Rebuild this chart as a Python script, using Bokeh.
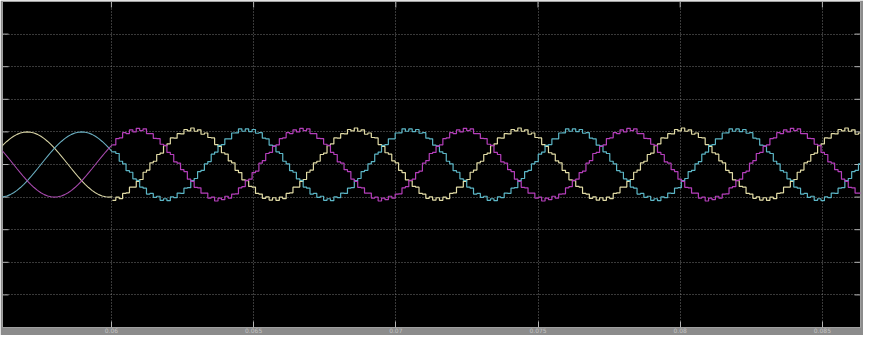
import numpy as np
from bokeh.plotting import figure
from bokeh.models import Range1d, FixedTicker
from bokeh.embed import file_html
from bokeh.resources import INLINE

# ---- axis ticks / labels ----
x_ticks = [0.06, 0.065, 0.07, 0.075, 0.08, 0.085]
x_tick_labels = ["0.06", "0.065", "0.07", "0.075", "0.08", "0.085"]
y_ticks = [-4, -3, -2, -1, 0, 1, 2, 3, 4]

# ---- time window and waveform parameters ----
t_start = 0.05617
t_end = 0.08634
y_min, y_max = -5, 5
t_switch = 0.06          # smooth -> stepped (inverter) operation
period = 0.00575         # one electrical period
yellow_peak_t = 0.05704  # first yellow maximum
amp_smooth = 1.0
amp_stepped = 1.07

# one period of the phase shape, 48 samples, starting at its maximum
wave_table = [1.0, 0.991, 0.966, 0.924, 0.866, 0.793, 0.707, 0.609, 0.5, 0.383, 0.259, 0.131,
              0.0, -0.131, -0.259, -0.383, -0.5, -0.609, -0.707, -0.793, -0.866, -0.924, -0.966, -0.991,
              -1.0, -0.991, -0.966, -0.924, -0.866, -0.793, -0.707, -0.609, -0.5, -0.383, -0.259, -0.131,
              0.0, 0.131, 0.259, 0.383, 0.5, 0.609, 0.707, 0.793, 0.866, 0.924, 0.966, 0.991]
# small ripple seen on the stepped part
ripple = [0.05, -0.04, 0.03, -0.06, 0.04, -0.02, 0.06, -0.04, 0.02, -0.05, 0.04, -0.03]

phase_names = ["yellow", "cyan", "magenta"]
phase_lag_samples = [0, 16, 32]
phase_colors_stepped = ["#e2dca6", "#5cb6c6", "#b53fbb"]
phase_colors_smooth = ["#d6d2a4", "#6aaec0", "#a84aae"]

n = len(wave_table)
dt = period / n
k_first = int(np.floor((t_start - yellow_peak_t) / dt)) - 1
k_switch = int(np.ceil((t_switch - yellow_peak_t) / dt))
k_last = int(np.ceil((t_end - yellow_peak_t) / dt)) + 1

W, H = 863, 335
p = figure(width=W, height=H, output_backend="svg", toolbar_location=None,
           x_range=Range1d(t_start, t_end), y_range=Range1d(y_min, y_max),
           background_fill_color="black", border_fill_color="#8c8c8c",
           min_border_left=2, min_border_right=3, min_border_top=1, min_border_bottom=0)
p.outline_line_color = "#a0a0a0"

p.yaxis.visible = False
ax = p.xaxis[0]
ax.ticker = FixedTicker(ticks=x_ticks)
ax.major_label_overrides = {t: s for t, s in zip(x_ticks, x_tick_labels)}
ax.axis_line_color = "#a0a0a0"
ax.major_tick_line_color = "#b4b4b4"
ax.major_tick_in = 6
ax.major_tick_out = 0
ax.minor_tick_line_color = None
ax.major_label_standoff = 0
ax.major_label_text_font_size = "6px"
ax.major_label_text_color = "#c4c4c4"
ax.major_label_text_font = "DejaVu Sans"

p.xgrid.ticker = FixedTicker(ticks=x_ticks)
p.ygrid.ticker = FixedTicker(ticks=y_ticks)
for g in (p.xgrid, p.ygrid):
    g.grid_line_color = "#9a9a9a"
    g.grid_line_dash = "1 2"
    g.grid_line_alpha = 0.75

# inside tick marks on top, left and right edges (6 px long, in data units)
tick_dx = 6 / 858 * (t_end - t_start)
tick_dy = 6 / 326 * (y_max - y_min)
p.segment(x0=x_ticks, x1=x_ticks, y0=[y_max] * len(x_ticks), y1=[y_max - tick_dy] * len(x_ticks),
          line_color="#b4b4b4", line_width=1)
p.segment(x0=[t_start] * len(y_ticks), x1=[t_start + tick_dx] * len(y_ticks), y0=y_ticks, y1=y_ticks,
          line_color="#b4b4b4", line_width=1)
p.segment(x0=[t_end] * len(y_ticks), x1=[t_end - tick_dx] * len(y_ticks), y0=y_ticks, y1=y_ticks,
          line_color="#b4b4b4", line_width=1)

for name, lag, c_step, c_smooth in zip(phase_names, phase_lag_samples,
                                       phase_colors_stepped, phase_colors_smooth):
    ks = np.arange(k_first, k_switch + 1)
    ts = yellow_peak_t + ks * dt
    ys = [amp_smooth * wave_table[(k - lag) % n] for k in ks]
    p.line(ts, ys, line_color=c_smooth, line_width=1.1)

    kst = np.arange(k_switch, k_last + 1)
    tst = yellow_peak_t + kst * dt
    yst = [amp_stepped * wave_table[(k - lag) % n] + ripple[(k + lag) % len(ripple)] for k in kst]
    p.step(tst, yst, mode="after", line_color=c_step, line_width=1.2)

open("out.html", "w").write(file_html(p, INLINE))
